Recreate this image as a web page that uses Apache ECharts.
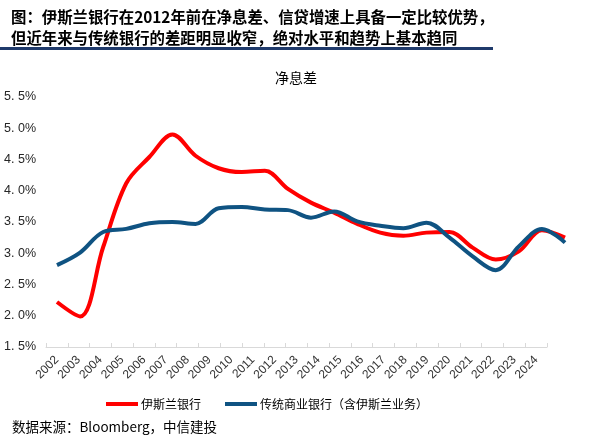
<!DOCTYPE html>
<html>
<head>
<meta charset="utf-8">
<script src="https://cdn.jsdelivr.net/npm/echarts@6/dist/echarts.min.js"></script>
<style>
  html, body { margin: 0; padding: 0; background: #fff; }
  #chart { width: 592px; height: 446px; }
</style>
</head>
<body>
<div id="chart"></div>
<script>
const years = ['2002', '2003', '2004', '2005', '2006', '2007', '2008', '2009', '2010', '2011', '2012',
    '2013', '2014', '2015', '2016', '2017', '2018', '2019', '2020', '2021', '2022', '2023', '2024']
// 伊斯兰银行 净息差 (%)
const islamicBanks = [2.22, 1.99, 3.1, 4.12, 4.54, 4.9, 4.56, 4.36, 4.3, 4.32, 4.03,
    3.81, 3.65, 3.47, 3.33, 3.28, 3.33, 3.34, 3.09, 2.9, 3.03, 3.37, 3.25]
// 传统商业银行（含伊斯兰业务）净息差 (%)
const conventionalBanks = [2.81, 3.01, 3.34, 3.39, 3.48, 3.5, 3.47, 3.72, 3.74, 3.7, 3.69,
    3.57, 3.67, 3.51, 3.44, 3.4, 3.49, 3.25, 2.95, 2.73, 3.11, 3.39, 3.17]
const yMin = 1.5
const yMax = 5.5
const yStep = 0.5

const titleText = '图：伊斯兰银行在2012年前在净息差、信贷增速上具备一定比较优势，\n但近年来与传统银行的差距明显收窄，绝对水平和趋势上基本趋同'
const sourceText = '数据来源：Bloomberg，中信建投'

const cjkFont = '"Noto Sans CJK SC", "Noto Sans", sans-serif'
const numFont = '"Liberation Sans", Arial, sans-serif'

const chart = echarts.init(document.getElementById('chart'))

const option = {
    animation: false,
    backgroundColor: '#fff',
    title: [
        {
            text: titleText,
            left: 6,
            top: 2,
            textStyle: {
                fontFamily: cjkFont,
                fontSize: 15.4,
                fontWeight: 'bold',
                color: '#000',
                lineHeight: 21,
            },
        },
        {
            text: '净息差',
            left: 'center',
            top: 66,
            textStyle: {
                fontFamily: cjkFont,
                fontSize: 14,
                fontWeight: 'normal',
                color: '#000',
            },
        },
    ],
    graphic: [
        {
            type: 'rect',
            left: 0,
            top: 47,
            shape: { width: 493, height: 3 },
            style: { fill: '#1f3a6b' },
        },
        {
            type: 'text',
            left: 12,
            top: 420,
            style: {
                text: sourceText,
                font: '13.5px ' + cjkFont,
                fill: '#000',
            },
        },
    ],
    legend: {
        left: 101,
        top: 393,
        icon: 'rect',
        itemWidth: 32,
        itemHeight: 4,
        itemGap: 24,
        textStyle: {
            fontFamily: cjkFont,
            fontSize: 12,
            color: '#000',
            padding: [0, 0, 0, -2],
        },
        data: ['伊斯兰银行', '传统商业银行（含伊斯兰业务）'],
    },
    grid: [
        { left: 46, top: 97, width: 501, height: 250 },
        { left: 57, top: 97, width: 508, height: 250 },
    ],
    xAxis: [
        {
            gridIndex: 0,
            type: 'category',
            data: years,
            boundaryGap: true,
            axisLine: { show: true, lineStyle: { color: '#d9d9d9', width: 1 } },
            axisTick: { show: true, inside: true, length: 4, lineStyle: { color: '#d9d9d9' } },
            axisLabel: {
                interval: 0,
                rotate: 45,
                margin: 11,
                fontSize: 12,
                fontFamily: numFont,
                color: '#333',
            },
            splitLine: { show: false },
        },
        {
            gridIndex: 1,
            type: 'category',
            data: years,
            boundaryGap: false,
            show: false,
        },
    ],
    yAxis: [
        {
            gridIndex: 0,
            type: 'value',
            min: yMin,
            max: yMax,
            interval: yStep,
            axisLine: { show: false },
            axisTick: { show: false },
            splitLine: { show: false },
            axisLabel: {
                margin: 10,
                fontSize: 12.5,
                fontFamily: numFont,
                color: '#262626',
                formatter: function (value) {
                    return value.toFixed(1).replace('.', '. ') + '%'
                },
            },
        },
        {
            gridIndex: 1,
            type: 'value',
            min: yMin,
            max: yMax,
            show: false,
        },
    ],
    series: [
        {
            name: '伊斯兰银行',
            type: 'line',
            xAxisIndex: 1,
            yAxisIndex: 1,
            data: islamicBanks,
            smooth: 0.35,
            showSymbol: false,
            clip: false,
            lineStyle: { width: 4, color: '#ff0000' },
            itemStyle: { color: '#ff0000' },
        },
        {
            name: '传统商业银行（含伊斯兰业务）',
            type: 'line',
            xAxisIndex: 1,
            yAxisIndex: 1,
            data: conventionalBanks,
            smooth: 0.35,
            showSymbol: false,
            clip: false,
            lineStyle: { width: 4, color: '#0f5382' },
            itemStyle: { color: '#0f5382' },
        },
    ],
}

chart.setOption(option)
</script>
</body>
</html>
